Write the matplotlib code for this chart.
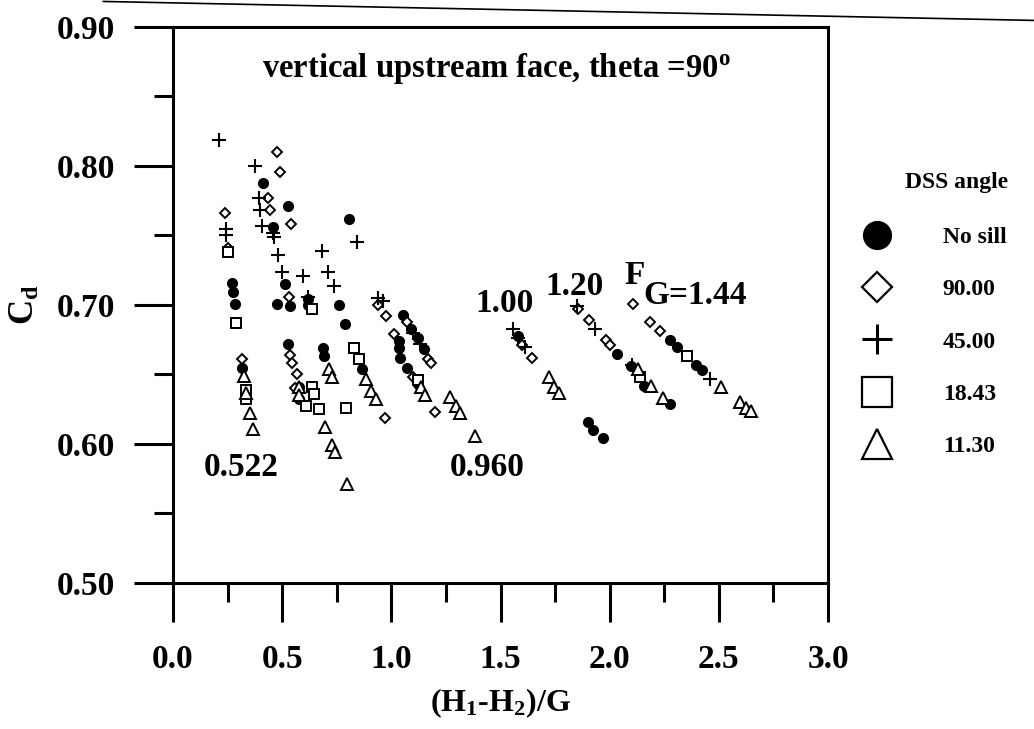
import matplotlib
matplotlib.use("Agg")
import matplotlib.pyplot as plt
from matplotlib.ticker import MultipleLocator, FormatStrFormatter
from matplotlib.lines import Line2D

plt.rcParams["font.family"] = ["Liberation Serif", "DejaVu Serif"]
plt.rcParams["font.weight"] = "bold"
plt.rcParams["axes.labelweight"] = "bold"
plt.rcParams["mathtext.fontset"] = "custom"
plt.rcParams["mathtext.rm"] = "Liberation Serif:bold"
plt.rcParams["mathtext.it"] = "Liberation Serif:bold"
plt.rcParams["mathtext.bf"] = "Liberation Serif:bold"

# ---------------------------------------
# Data: (H1-H2)/G vs Cd
# ---------------------------------------

nosill_x = [0.414, 0.525, 0.457, 0.805, 0.511, 0.272, 0.275, 0.282, 0.477, 0.535,
            0.619, 0.619, 0.760, 0.788, 1.055, 1.090, 1.120, 1.150, 1.034, 1.034,
            1.040, 1.070, 1.120, 0.525, 0.686, 0.690, 0.867, 0.317, 0.579, 0.579,
            2.035, 2.097, 2.159, 2.275, 1.901, 1.925, 1.971, 2.278, 2.310, 2.394,
            2.424, 1.580]
nosill_y = [0.788, 0.771, 0.756, 0.762, 0.715, 0.716, 0.709, 0.701, 0.701, 0.699,
            0.704, 0.700, 0.700, 0.686, 0.693, 0.683, 0.676, 0.668, 0.674, 0.669,
            0.662, 0.655, 0.643, 0.672, 0.669, 0.663, 0.654, 0.655, 0.641, 0.632,
            0.665, 0.656, 0.642, 0.629, 0.616, 0.610, 0.604, 0.675, 0.670, 0.657,
            0.653, 0.678]

d90_x = [0.476, 0.492, 0.434, 0.443, 0.541, 0.237, 0.250, 0.530, 0.940, 0.974,
         1.010, 0.538, 0.546, 0.970, 0.317, 0.567, 1.198, 1.070, 1.170, 1.182,
         1.100, 1.646, 1.600, 1.854, 1.903, 1.981, 2.003, 2.105, 2.183, 2.232,
         0.560]
d90_y = [0.810, 0.796, 0.777, 0.768, 0.758, 0.766, 0.741, 0.706, 0.700, 0.692,
         0.679, 0.664, 0.658, 0.619, 0.661, 0.650, 0.623, 0.688, 0.661, 0.658,
         0.648, 0.662, 0.671, 0.697, 0.689, 0.675, 0.671, 0.701, 0.688, 0.681,
         0.640]

d45_x = [0.213, 0.374, 0.392, 0.400, 0.408, 0.463, 0.241, 0.245, 0.460, 0.842,
         0.682, 0.712, 0.736, 0.482, 0.500, 0.595, 0.620, 0.940, 0.960, 1.100,
         1.130, 1.557, 1.580, 1.610, 1.850, 1.934, 2.100, 2.461]
d45_y = [0.819, 0.800, 0.777, 0.768, 0.757, 0.749, 0.755, 0.750, 0.752, 0.745,
         0.739, 0.724, 0.714, 0.736, 0.724, 0.721, 0.706, 0.705, 0.703, 0.680,
         0.672, 0.683, 0.676, 0.670, 0.699, 0.683, 0.657, 0.647]

d18_x = [0.250, 0.289, 0.635, 0.831, 0.852, 0.334, 0.334, 0.636, 0.647, 0.610,
         0.671, 0.793, 2.353, 1.120, 2.140]
d18_y = [0.738, 0.687, 0.697, 0.669, 0.661, 0.639, 0.632, 0.641, 0.636, 0.627,
         0.625, 0.626, 0.663, 0.646, 0.648]

d11_x = [0.323, 0.333, 0.351, 0.367, 0.579, 0.579, 0.715, 0.730, 0.883, 0.907,
         0.930, 0.698, 0.727, 0.742, 0.798, 1.137, 1.152, 1.267, 1.297, 1.313,
         1.383, 1.724, 1.747, 1.770, 2.128, 2.190, 2.244, 2.510, 2.596, 2.626,
         2.649]
d11_y = [0.649, 0.637, 0.622, 0.611, 0.641, 0.635, 0.654, 0.648, 0.647, 0.638,
         0.632, 0.612, 0.599, 0.594, 0.571, 0.641, 0.635, 0.634, 0.627, 0.622,
         0.606, 0.648, 0.641, 0.637, 0.654, 0.642, 0.633, 0.641, 0.630, 0.626,
         0.624]

legend_labels = ["No sill", "90.00", "45.00", "18.43", "11.30"]

fig = plt.figure(figsize=(10.34, 7.29), dpi=100)
ax = fig.add_axes([0.1673, 0.2003, 0.6335, 0.7627])

ax.plot(nosill_x, nosill_y, "o", color="black", ms=7, ls="none")
ax.plot(d90_x, d90_y, "D", mfc="white", mec="black", mew=1.4, ms=5, ls="none")
ax.plot(d45_x, d45_y, "+", color="black", mew=1.5, ms=10, ls="none")
ax.plot(d18_x, d18_y, "s", mfc="white", mec="black", mew=1.4, ms=7, ls="none")
ax.plot(d11_x, d11_y, "^", mfc="white", mec="black", mew=1.4, ms=9, ls="none")

ax.set_xlim(0, 3.0)
ax.set_ylim(0.50, 0.90)
ax.xaxis.set_major_locator(MultipleLocator(0.5))
ax.xaxis.set_minor_locator(MultipleLocator(0.25))
ax.yaxis.set_major_locator(MultipleLocator(0.1))
ax.yaxis.set_minor_locator(MultipleLocator(0.05))
ax.xaxis.set_major_formatter(FormatStrFormatter("%.1f"))
ax.yaxis.set_major_formatter(FormatStrFormatter("%.2f"))

for s in ax.spines.values():
    s.set_linewidth(2.2)
ax.tick_params(which="major", length=28, width=2.2, labelsize=24, direction="out")
ax.tick_params(which="minor", length=14, width=2.2, direction="out")
ax.tick_params(axis="x", pad=16)
ax.tick_params(axis="y", pad=14)

ax.set_xlabel(r"(H$_{\rm 1}$-H$_{\rm 2}$)/G", fontsize=23, labelpad=8)
ax.set_ylabel(r"C$_{\rm d}$", fontsize=25, labelpad=10)

ax.text(1.48, 0.870, r"vertical upstream face, theta =90$^{\rm o}$",
        fontsize=23.5, ha="center", va="center")
ax.text(0.314, 0.583, "0.522", fontsize=24, ha="center", va="center")
ax.text(1.437, 0.583, "0.960", fontsize=24, ha="center", va="center")
ax.text(1.519, 0.701, "1.00", fontsize=24, ha="center", va="center")
ax.text(1.839, 0.713, "1.20", fontsize=24, ha="center", va="center")
ax.text(2.115, 0.721, "F", fontsize=24, ha="center", va="center")
ax.text(2.39, 0.707, "G=1.44", fontsize=24, ha="center", va="center")

# legend on the right
fig.text(0.925, 0.75, "DSS angle", fontsize=17, ha="center", va="center")
handles = [
    Line2D([], [], marker="o", color="black", ls="none", ms=20),
    Line2D([], [], marker="D", mfc="white", mec="black", mew=1.6, ls="none", ms=15),
    Line2D([], [], marker="+", color="black", mew=2.2, ls="none", ms=22),
    Line2D([], [], marker="s", mfc="white", mec="black", mew=1.6, ls="none", ms=21),
    Line2D([], [], marker="^", mfc="white", mec="black", mew=1.6, ls="none", ms=22),
]
fig.legend(handles, legend_labels, loc="upper left", bbox_to_anchor=(0.825, 0.689),
           frameon=False, fontsize=17, handletextpad=1.8, labelspacing=1.3,
           borderpad=0, borderaxespad=0)

# page edge of the scan
fig.add_artist(Line2D([0.10, 1.0], [0.998, 0.972], transform=fig.transFigure,
                      color="black", lw=1.2))

fig.savefig("out.png", dpi=100)
